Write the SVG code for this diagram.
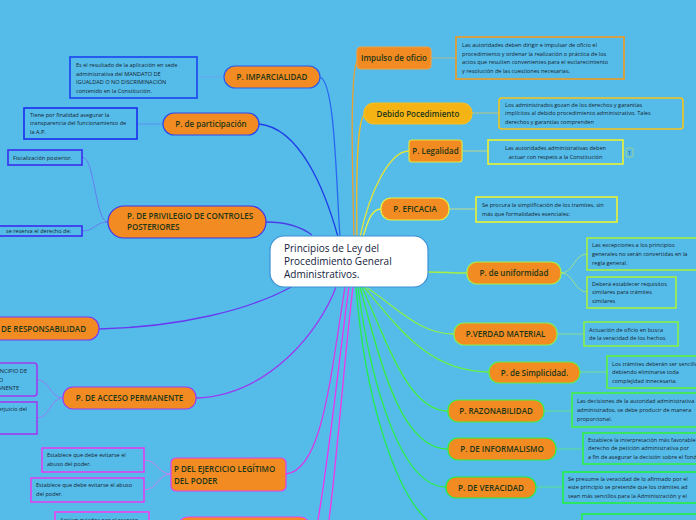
<svg xmlns="http://www.w3.org/2000/svg" width="696" height="520" viewBox="0 0 696 520">
<style>
.bg{fill:#55bcea}
.nd{fill:#f28b22;stroke-width:1.2}
.nt{font-family:"Open Sans","Noto Sans",sans-serif;font-size:8px;font-weight:600;fill:#1d3618;text-anchor:middle}
.ntl{font-family:"Open Sans","Noto Sans",sans-serif;font-size:8px;font-weight:600;fill:#1d3618}
.bx{fill:none;stroke-width:1.6}
.dt{font-family:"Open Sans","Noto Sans",sans-serif;font-size:5.6px;fill:#16222e}
.ct{font-family:"Open Sans","Noto Sans",sans-serif;font-size:10px;font-weight:500;fill:#14213d}
.c{fill:none;stroke-width:1.3}
.cd{fill:none;stroke-width:0.8}
</style>
<rect class="bg" x="0" y="0" width="696" height="520"/>

<g id="connectors">
  <path class="c" stroke="#2a66f0" d="M320,77 C335,82 336,180 340,237"/>
  <path class="c" stroke="#1f3ee6" d="M259,124 C300,128 325,190 338,237"/>
  <path class="c" stroke="#4a40e6" d="M266,222 C285,222 300,226 312,235"/>
  <path class="c" stroke="#6a3af0" d="M99,329 C180,327 250,310 293,286"/>
  <path class="c" stroke="#9a3af0" d="M196,398 C270,395 320,330 336,287"/>
  <path class="c" stroke="#d83ae6" d="M286,474 C322,470 330,380 345,287"/>
  <path class="c" stroke="#ee34ee" d="M318,520 C330,450 340,350 349,287"/>
  <path class="c" stroke="#f038e8" d="M329,520 C338,450 345,350 353,287"/>

  <path class="c" stroke="#e8a030" d="M354,237 C352,160 350,65 358,60"/>
  <path class="c" stroke="#f2ba20" d="M357,237 C356,170 357,115 366,113"/>
  <path class="c" stroke="#e2e43c" d="M360,237 C370,190 390,151 409,151"/>
  <path class="c" stroke="#eaf040" d="M363,237 C368,220 372,209 381,209"/>
  <path class="c" stroke="#a6f040" d="M428,272 C445,272 450,273 467,273"/>
  <path class="c" stroke="#8cf04a" d="M366,287 C400,310 420,334 454,334"/>
  <path class="c" stroke="#6cf040" d="M364,287 C400,330 430,372 489,372"/>
  <path class="c" stroke="#44f040" d="M362,287 C390,350 410,411 448,411"/>
  <path class="c" stroke="#34ee40" d="M360,287 C380,360 400,449 448,449"/>
  <path class="c" stroke="#2aee44" d="M358,287 C370,380 400,487 446,487"/>
  <path class="c" stroke="#22ec48" d="M356,287 C365,400 395,490 427,520"/>

  <path class="cd" stroke="#6a9ef0" d="M197,77 L224,77"/>
  <path class="cd" stroke="#5a86f0" d="M137,124 L163,124"/>
  <path class="cd" stroke="#6a6cf0" d="M108,222 C95,222 95,157 82,157 M108,222 C95,222 95,231 82,231"/>
  <path class="cd" stroke="#a46cf0" d="M63,398 C50,398 50,380 37,380 M63,398 C50,398 50,418 37,418"/>
  <path class="cd" stroke="#e070f0" d="M171,474 C158,474 157,460 144,460 M171,474 C158,474 157,490 144,490"/>
  <path class="cd" stroke="#c4b878" d="M431,58 L456,58"/>
  <path class="cd" stroke="#dcc860" d="M472,113 L499,113"/>
  <path class="cd" stroke="#d8dc70" d="M462,151 L488,151"/>
  <path class="cd" stroke="#dce470" d="M449,209 L476,209"/>
  <path class="cd" stroke="#b0e870" d="M561,273 C574,273 574,254 587,254 M561,273 C574,273 574,292 587,292"/>
  <path class="cd" stroke="#98e878" d="M557,334 L584,334"/>
  <path class="cd" stroke="#80e878" d="M580,372 L607,372"/>
  <path class="cd" stroke="#70e878" d="M544,411 L572,411"/>
  <path class="cd" stroke="#60e878" d="M556,449 L583,449"/>
  <path class="cd" stroke="#58e878" d="M536,487 L563,487"/>
</g>

<g id="central">
  <rect x="270" y="236" width="158" height="51" rx="14" fill="#ffffff" stroke="#3a8fd4" stroke-width="1.2"/>
  <text class="ct" x="284" y="252">Principios de Ley del</text>
  <text class="ct" x="284" y="265">Procedimiento General</text>
  <text class="ct" x="284" y="278">Administrativos.</text>
</g>

<g id="imparcialidad">
  <rect class="nd" x="224" y="66" width="96" height="22" rx="11" stroke="#2a5af0"/>
  <text class="nt" x="272" y="80">P. IMPARCIALIDAD</text>
  <rect class="bx" x="70" y="57" width="127" height="41" stroke="#1a44ee"/>
  <text class="dt" x="76" y="67">Es el resultado de la aplicación en sede</text>
  <text class="dt" x="76" y="75.5">administrativa del MANDATO DE</text>
  <text class="dt" x="76" y="84">IGUALDAD O NO DISCRIMINACIÓN</text>
  <text class="dt" x="76" y="92.5">contenido en la Constitución.</text>
</g>

<g id="participacion">
  <rect class="nd" x="163" y="113" width="96" height="22" rx="11" stroke="#2a48f0"/>
  <text class="nt" x="211" y="127">P. de participación</text>
  <rect class="bx" x="24" y="108" width="113" height="31" stroke="#1a2cee"/>
  <text class="dt" x="30" y="116.5">Tiene por finalidad asegurar la</text>
  <text class="dt" x="30" y="125">transparencia del funcionamiento de</text>
  <text class="dt" x="30" y="133.5">la A.P.</text>
</g>

<g id="privilegio">
  <rect class="nd" x="108" y="206" width="158" height="32" rx="16" stroke="#4433e8"/>
  <text class="ntl" x="127" y="219">P. DE PRIVILEGIO DE CONTROLES</text>
  <text class="ntl" x="127" y="230">POSTERIORES</text>
  <rect class="bx" x="8" y="150" width="74" height="15" stroke="#3a2cee"/>
  <text class="dt" x="13" y="159.5">Fiscalización posterior.</text>
  <rect class="bx" x="-2" y="226" width="84" height="10" stroke="#3a2cee"/>
  <text class="dt" x="6" y="233">se reserva el derecho de:</text>
</g>

<g id="responsabilidad">
  <rect class="nd" x="-20" y="317" width="119" height="23" rx="11" stroke="#7a3af0"/>
  <text class="ntl" x="86" y="332" text-anchor="end">P. DE RESPONSABILIDAD</text>
</g>

<g id="acceso">
  <rect class="nd" x="63" y="387" width="133" height="22" rx="10" stroke="#a03af0"/>
  <text class="nt" x="129.5" y="401">P. DE ACCESO PERMANENTE</text>
  <rect class="bx" x="-4" y="363" width="41" height="33" rx="3" stroke="#a03af0"/>
  <text class="dt" x="27" y="373" text-anchor="end">PRINCIPIO DE</text>
  <text class="dt" x="3" y="381.5" text-anchor="end">ACCESO</text>
  <text class="dt" x="19" y="390" text-anchor="end">PERMANENTE</text>
  <rect class="bx" x="-4" y="402" width="41" height="32" stroke="#a03af0"/>
  <text class="dt" x="27" y="411" text-anchor="end">sin perjuicio del</text>
</g>

<g id="ejercicio">
  <rect class="nd" x="171" y="458" width="115" height="33" rx="5" stroke="#e040f0"/>
  <text class="ntl" x="174" y="472">P DEL EJERCICIO LEGÍTIMO</text>
  <text class="ntl" x="174" y="484">DEL PODER</text>
  <rect class="bx" x="42" y="448" width="102" height="24" stroke="#e040f0"/>
  <text class="dt" x="47" y="457">Establece que debe evitarse el</text>
  <text class="dt" x="47" y="465.5">abuso del poder.</text>
  <rect class="bx" x="31" y="478" width="113" height="24" stroke="#e040f0"/>
  <text class="dt" x="36" y="487">Establece que debe evitarse el abuso</text>
  <text class="dt" x="36" y="495.5">del poder.</text>
</g>

<g id="bottom-left">
  <rect class="nd" x="178" y="517" width="132" height="24" rx="10" stroke="#f040f0"/>
  <rect class="bx" x="55" y="512" width="94" height="20" stroke="#f040f0"/>
  <text class="dt" x="60" y="521.5">Actúan guiados por el respeto</text>
</g>

<g id="impulso">
  <rect class="nd" x="357" y="47" width="74" height="22" rx="4" stroke="#f0a040"/>
  <text class="nt" x="394" y="61">Impulso de oficio</text>
  <rect class="bx" x="456" y="37" width="168" height="42" stroke="#f09a1e"/>
  <text class="dt" x="462" y="47">Las autoridades deben dirigir e impulsar de oficio el</text>
  <text class="dt" x="462" y="55.5">procedimiento y ordenar la realización o práctica de los</text>
  <text class="dt" x="462" y="64">actos que resulten convenientes para el esclarecimiento</text>
  <text class="dt" x="462" y="72.5">y resolución de las cuestiones necesarias.</text>
</g>

<g id="debido">
  <rect x="364" y="103" width="108" height="21" rx="10" fill="#f6b414" stroke="#f6c020" stroke-width="1.2"/>
  <text class="nt" x="418" y="116.5">Debido Pocedimiento</text>
  <rect class="bx" x="499" y="98" width="184" height="31" rx="3" stroke="#f6c41a"/>
  <text class="dt" x="505" y="106.5">Los administrados gozan de los derechos y garantías</text>
  <text class="dt" x="505" y="115">implícitos al debido procedimiento administrativo. Tales</text>
  <text class="dt" x="505" y="123.5">derechos y garantías comprenden</text>
</g>

<g id="legalidad">
  <rect class="nd" x="409" y="140" width="53" height="22" rx="3" stroke="#e2e43c"/>
  <text class="nt" x="435.5" y="154">P. Legalidad</text>
  <rect class="bx" x="488" y="140" width="135" height="24" stroke="#eef030"/>
  <text class="dt" x="555.5" y="150" text-anchor="middle">Las autoridades administrativas deben</text>
  <text class="dt" x="555.5" y="158.5" text-anchor="middle">actuar con respeto a la Constitución</text>
  <rect x="626" y="148" width="7" height="9" rx="2" fill="none" stroke="#c8e060" stroke-width="0.6"/>
  <text x="629.5" y="154.5" font-family="Open Sans, sans-serif" font-size="4.5" fill="#1b2a3a" text-anchor="middle">1</text>
</g>

<g id="eficacia">
  <rect class="nd" x="381" y="198" width="68" height="22" rx="10" stroke="#e8f040"/>
  <text class="nt" x="415" y="212">P. EFICACIA</text>
  <rect class="bx" x="476" y="197" width="141" height="25" stroke="#eef030"/>
  <text class="dt" x="482" y="207">Se procura la simplificación de los tramites, sin</text>
  <text class="dt" x="482" y="215.5">más que formalidades esenciales:</text>
</g>

<g id="uniformidad">
  <rect class="nd" x="467" y="262" width="94" height="22" rx="10" stroke="#a8f040"/>
  <text class="nt" x="514" y="276">P. de uniformidad</text>
  <rect class="bx" x="587" y="238" width="115" height="32" stroke="#a8f040"/>
  <text class="dt" x="592" y="247">Las excepciones a los principios</text>
  <text class="dt" x="592" y="256">generales no serán convertidas en la</text>
  <text class="dt" x="592" y="265">regla general.</text>
  <rect class="bx" x="587" y="277" width="89" height="31" stroke="#a8f040"/>
  <text class="dt" x="592" y="285.5">Deberá establecer requisitos</text>
  <text class="dt" x="592" y="294">similares para trámites</text>
  <text class="dt" x="592" y="302.5">similares</text>
</g>

<g id="verdad">
  <rect class="nd" x="454" y="323" width="103" height="22" rx="10" stroke="#88f048"/>
  <text class="nt" x="505.5" y="337">P.VERDAD MATERIAL</text>
  <rect class="bx" x="584" y="322" width="94" height="24" stroke="#88f048"/>
  <text class="dt" x="589" y="331.5">Actuación de oficio en busca</text>
  <text class="dt" x="589" y="340">de la veracidad de los hechos</text>
</g>

<g id="simplicidad">
  <rect class="nd" x="489" y="362" width="91" height="21" rx="10" stroke="#60f040"/>
  <text class="nt" x="534.5" y="375.5">P. de Simplicidad.</text>
  <rect class="bx" x="607" y="356" width="95" height="32" stroke="#60f040"/>
  <text class="dt" x="612" y="365.5">Los trámites deberán ser sencillos</text>
  <text class="dt" x="612" y="374">debiendo eliminarse toda</text>
  <text class="dt" x="612" y="382.5">complejidad innecesaria.</text>
</g>

<g id="razonabilidad">
  <rect class="nd" x="448" y="400" width="96" height="22" rx="10" stroke="#40f040"/>
  <text class="nt" x="496" y="414">P. RAZONABILIDAD</text>
  <rect class="bx" x="572" y="393" width="130" height="34" stroke="#40f040"/>
  <text class="dt" x="577" y="402.5">Las decisiones de la autoridad administrativa</text>
  <text class="dt" x="577" y="411.5">administrados, se debe producir de manera</text>
  <text class="dt" x="577" y="420.5">proporcional.</text>
</g>

<g id="informalismo">
  <rect class="nd" x="448" y="438" width="108" height="22" rx="10" stroke="#30f040"/>
  <text class="nt" x="502" y="452">P. DE INFORMALISMO</text>
  <rect class="bx" x="583" y="433" width="119" height="31" stroke="#30f040"/>
  <text class="dt" x="588" y="441.5">Establece la interpretación más favorable</text>
  <text class="dt" x="588" y="450">derecho de petición administrativa por</text>
  <text class="dt" x="588" y="458.5">a fin de asegurar la decisión sobre el fondo</text>
</g>

<g id="veracidad">
  <rect class="nd" x="446" y="477" width="90" height="21" rx="10" stroke="#20f040"/>
  <text class="nt" x="491" y="490.5">P. DE VERACIDAD</text>
  <rect class="bx" x="563" y="472" width="139" height="31" stroke="#20f040"/>
  <text class="dt" x="568" y="480.5">Se presume la veracidad de lo afirmado por el</text>
  <text class="dt" x="568" y="489">este principio se pretende que los trámites ad</text>
  <text class="dt" x="568" y="497.5">sean más sencillos para la Administración y el</text>
</g>

<g id="bottom-right">
  <rect class="bx" x="582" y="514" width="120" height="20" stroke="#20f040"/>
</g>
</svg>
